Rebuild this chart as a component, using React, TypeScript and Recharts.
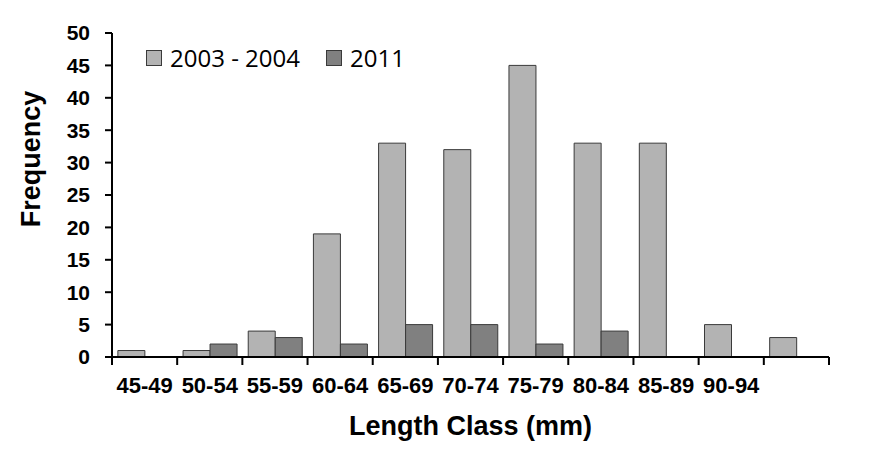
import React from "react";
import { BarChart, Bar, XAxis, YAxis } from "recharts";

const lengthClasses = ["45-49", "50-54", "55-59", "60-64", "65-69", "70-74", "75-79", "80-84", "85-89", "90-94", ""];
const freq2003 = [1, 1, 4, 19, 33, 32, 45, 33, 33, 5, 3];
const freq2011 = [0, 2, 3, 2, 5, 5, 2, 4, 0, 0, 0];
const yTicks = [0, 5, 10, 15, 20, 25, 30, 35, 40, 45, 50];

const series = [
  { key: "p2003", name: "2003 - 2004", fill: "#b3b3b3" },
  { key: "p2011", name: "2011", fill: "#808080" },
];

const data = lengthClasses.map((cls, i) => ({ cls, p2003: freq2003[i], p2011: freq2011[i] }));

const BOLD = "'Liberation Sans', Arial, sans-serif";

// ticks sit on the class boundaries, labels in the middle of each class
function ClassTick(props: any) {
  const { x, y, payload, index } = props;
  const half = payload.offset || 0;
  return (
    <g>
      <line x1={x - half} y1={y} x2={x - half} y2={y + 8} stroke="#000" strokeWidth={2} />
      {index === lengthClasses.length - 1 && (
        <line x1={x + half} y1={y} x2={x + half} y2={y + 8} stroke="#000" strokeWidth={2} />
      )}
      <text x={x} y={y + 20} dy="0.71em" textAnchor="middle" fontFamily={BOLD} fontWeight="bold" fontSize={22} fill="#000">
        {payload.value}
      </text>
    </g>
  );
}

export default function App() {
  return (
    <div style={{ position: "absolute", left: 0, top: 0, width: 880, height: 464, background: "#fff" }}>
      <BarChart
        width={880}
        height={464}
        data={data}
        margin={{ top: 33, right: 51, left: 0, bottom: 47 }}
        barCategoryGap="9%"
        barGap={0}
      >
        <XAxis
          dataKey="cls"
          interval={0}
          height={60}
          tickSize={0}
          tickMargin={0}
          tickLine={false}
          axisLine={{ stroke: "#000", strokeWidth: 2 }}
          tick={<ClassTick />}
          label={{
            content: (p: any) => (
              <text
                x={p.viewBox.x + p.viewBox.width / 2}
                y={435}
                textAnchor="middle"
                fontFamily={BOLD}
                fontWeight="bold"
                fontSize={27}
                fill="#000"
              >
                Length Class (mm)
              </text>
            ),
          }}
        />
        <YAxis
          domain={[0, 50]}
          ticks={yTicks}
          interval={0}
          width={112}
          tickSize={7}
          tickMargin={15}
          tickLine={{ stroke: "#000", strokeWidth: 2 }}
          axisLine={{ stroke: "#000", strokeWidth: 2 }}
          tick={{ fontFamily: BOLD, fontWeight: "bold", fontSize: 21, fill: "#000" }}
          label={{
            content: () => (
              <text
                x={31}
                y={159}
                transform="rotate(-90 31 159)"
                textAnchor="middle"
                dominantBaseline="central"
                fontFamily={BOLD}
                fontWeight="bold"
                fontSize={27}
                fill="#000"
              >
                Frequency
              </text>
            ),
          }}
        />
        {series.map((s) => (
          <Bar key={s.key} dataKey={s.key} name={s.name} fill={s.fill} stroke="#3a3a3a" strokeWidth={1} isAnimationActive={false} />
        ))}
      </BarChart>
      {/* legend, top left inside the plot */}
      <div style={{ position: "absolute", left: 146, top: 41, display: "flex", alignItems: "center", fontFamily: "'Open Sans', sans-serif", fontSize: 24, color: "#000" }}>
        {series.map((s, i) => (
          <div key={s.key} style={{ display: "flex", alignItems: "center", marginRight: i === 0 ? 26 : 0 }}>
            <span style={{ display: "inline-block", width: 14, height: 14, background: s.fill, border: "1px solid #3a3a3a", marginRight: 8 }} />
            <span>{s.name}</span>
          </div>
        ))}
      </div>
    </div>
  );
}
